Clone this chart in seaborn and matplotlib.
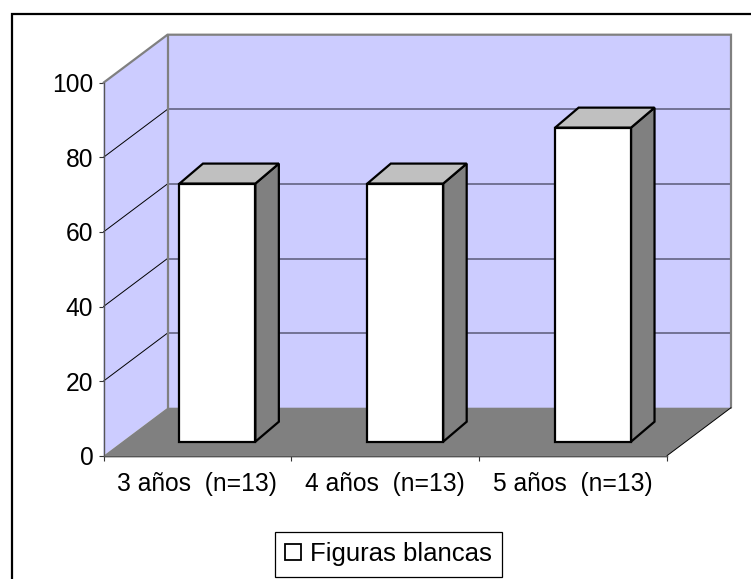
import matplotlib
matplotlib.use("Agg")
import matplotlib.pyplot as plt
from matplotlib.lines import Line2D
from matplotlib.patches import Polygon
import seaborn as sns
import pandas as pd

categories = ["3 años  (n=13)", "4 años  (n=13)", "5 años  (n=13)"]
values = [69.2, 69.2, 84.2]
series_name = "Figuras blancas"
yticks = [0, 20, 40, 60, 80, 100]

WALL = "#CCCCFF"
GREY = "#808080"
TOP = "#C0C0C0"

sns.set_theme(style="white")
plt.rcParams["font.family"] = ["Liberation Sans", "DejaVu Sans"]

W, H = 751, 579
fig = plt.figure(figsize=(W / 100, H / 100), dpi=100, facecolor="white")
ax = fig.add_axes([103.5 / W, (H - 455.7) / H, 563.5 / W, 373 / H])
ax.set_facecolor("none")

df = pd.DataFrame({"grupo": categories, "valor": values})
sns.barplot(data=df, x="grupo", y="valor", color="white", saturation=1,
            width=0.404, edgecolor="black", linewidth=1.6, label=series_name,
            ax=ax, zorder=5)
ax.set_xlim(-0.5, 2.5)
ax.set_ylim(0, 100)

# pixels -> data units
px = 3 / 563.5
py = 100 / 373
WD, WH = 64 * px, 48 * py           # depth of the whole plot box
OX, OY = 20 * px, 14 * py           # bar offset inside the box
BD, BH = 23.5 * px, 20 * py         # depth of each bar


def poly(pts, fc="none", ec="none", lw=0, z=1):
    ax.add_patch(Polygon(pts, closed=True, facecolor=fc, edgecolor=ec, linewidth=lw,
                         zorder=z, clip_on=False, joinstyle="miter"))


x0, x1 = -0.5, 2.5
# walls and floor
poly([(x0 + WD, WH), (x1 + WD, WH), (x1 + WD, 100 + WH), (x0 + WD, 100 + WH)], WALL)
poly([(x0, 0), (x0 + WD, WH), (x0 + WD, 100 + WH), (x0, 100)], WALL)
poly([(x0, 0), (x1, 0), (x1 + WD, WH), (x0 + WD, WH)], GREY)

# gridlines
for t in yticks[1:-1]:
    ax.plot([x0, x0 + WD], [t, t + WH], color="black", lw=0.7, zorder=2, clip_on=False)
for t in yticks[1:-1]:
    ax.plot([x0 + WD, x1 + WD], [t + WH, t + WH], color="#5A5A78", lw=1.1, zorder=2, clip_on=False)

# wall outlines
ax.plot([x0, x0 + WD, x1 + WD, x1 + WD], [100, 100 + WH, 100 + WH, WH],
        color=GREY, lw=1.6, zorder=3, clip_on=False, solid_joinstyle="miter")
ax.plot([x0 + WD, x0 + WD], [WH, 100 + WH], color=GREY, lw=1.6, zorder=3, clip_on=False)
ax.plot([x0, x1], [0, 0], color="#333333", lw=1.0, zorder=3, clip_on=False)
ax.plot([x1, x1 + WD], [0, WH], color="black", lw=0.7, zorder=3, clip_on=False)

# bars: shift the front faces into the box, then add the 3D faces
for patch, v in zip(ax.patches[:len(values)], values):
    patch.set_x(patch.get_x() + OX)
    patch.set_y(OY)
    patch.set_height(v)
    patch.set_clip_on(False)
    l, r = patch.get_x(), patch.get_x() + patch.get_width()
    b, t = OY, OY + v
    poly([(r, b), (r + BD, b + BH), (r + BD, t + BH), (r, t)], GREY, "black", 1.6, 4)
    poly([(l, t), (r, t), (r + BD, t + BH), (l + BD, t + BH)], TOP, "black", 1.6, 4)

# axes
sns.despine(ax=ax, top=True, right=True)
for s in ("left", "bottom"):
    ax.spines[s].set_color("#555555")
    ax.spines[s].set_linewidth(1.0)
    ax.spines[s].set_zorder(3)
ax.set_xlabel("")
ax.set_ylabel("")
ax.set_yticks(yticks)
ax.set_xticks([-0.5, 0.5, 1.5, 2.5])
ax.set_xticklabels([])
ax.set_xticks([0, 1, 2], minor=True)
ax.set_xticklabels(categories, minor=True)
ax.tick_params(axis="x", which="major", length=3.8, width=0.8, color="#333333", bottom=True)
ax.tick_params(axis="x", which="minor", length=0, pad=11.5, labelsize=17.7, labelcolor="black", bottom=True)
ax.tick_params(axis="y", length=3.8, width=0.8, color="#333333", pad=3.5, labelsize=17.7,
               labelcolor="black", left=True)

# legend
leg = ax.legend(loc="center", bbox_to_anchor=(388.5 / W, (H - 554.5) / H),
                bbox_transform=fig.transFigure, frameon=True, fancybox=False,
                edgecolor="black", framealpha=1, fontsize=18.5, labelcolor="black",
                handlelength=0.6, handleheight=0.58, handletextpad=0.37,
                borderpad=0.4, borderaxespad=0)
leg.get_frame().set_linewidth(0.9)
leg.set_zorder(10)
for h in leg.legend_handles:
    h.set_linewidth(1.3)

# chart-area border (cut by the image on the right and bottom)
fig.add_artist(Line2D([11.5 / W, 11.5 / W, 750.5 / W], [0, (H - 14) / H, (H - 14) / H],
                      color="black", lw=1.6, solid_joinstyle="miter"))

fig.savefig("out.png", dpi=100, facecolor="white")
